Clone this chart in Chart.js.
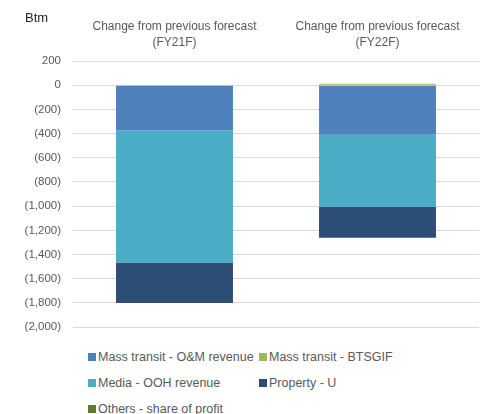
<!DOCTYPE html>
<html>
<head>
<meta charset="utf-8">
<script src="https://cdn.jsdelivr.net/npm/chart.js@4"></script>
<style>
  body { margin: 0; background: #fff; font-family: "Liberation Sans", Arial, sans-serif; }
  #wrap { position: relative; width: 486px; height: 414px; }
  #unit { position: absolute; left: 25px; top: 10px; font-size: 13px; color: #262626; }
  #legend { position: absolute; left: 88px; top: 350px; width: 390px; font-size: 12.5px; color: #595959; }
  .item { position: absolute; white-space: nowrap; line-height: 14px; }
  .item span { display: inline-block; width: 8px; height: 8px; margin-right: 2px; vertical-align: 0px; }
</style>
</head>
<body>
<div id="wrap">
  <canvas id="chart" width="486" height="346"></canvas>
  <div id="unit">Btm</div>
  <div id="legend"></div>
</div>
<script>
const categories = [
    ['Change from previous forecast', '(FY21F)'],
    ['Change from previous forecast', '(FY22F)']
];
const seriesNames = [
    'Mass transit - O&M revenue',
    'Mass transit - BTSGIF',
    'Media - OOH revenue',
    'Property - U',
    'Others - share of profit'
];
const massTransitOM = [-372, -410];
const massTransitBTSGIF = [0, 12];
const mediaOOH = [-1093, -595];
const propertyU = [-335, -256];
const othersShare = [0, 0];
const seriesColors = ['#4F81BD', '#9BBB59', '#4BACC6', '#2C4D75', '#5F7A2F'];

const yTicks = { min: -2000, max: 200, step: 200 };

const values = [massTransitOM, massTransitBTSGIF, mediaOOH, propertyU, othersShare];
const datasets = seriesNames.map((name, i) => ({
    label: name,
    data: values[i],
    backgroundColor: seriesColors[i],
    borderWidth: 0,
    barPercentage: 0.576,
    categoryPercentage: 1
}));

function fmt(v) {
    const s = Math.abs(v).toLocaleString('en-US');
    return v < 0 ? '(' + s + ')' : s;
}

new Chart(document.getElementById('chart'), {
    type: 'bar',
    data: { labels: categories, datasets: datasets },
    options: {
        responsive: false,
        animation: false,
        layout: { padding: { left: 0, right: 7, top: 0, bottom: 0 } },
        plugins: { legend: { display: false }, tooltip: { enabled: false } },
        scales: {
            x: {
                position: 'top',
                stacked: true,
                grid: { display: false },
                border: { display: false },
                ticks: {
                    color: '#595959',
                    font: { family: 'Liberation Sans', size: 12, lineHeight: 1.35 },
                    padding: 2
                },
                afterFit: s => { s.height = 61; }
            },
            y: {
                stacked: true,
                min: yTicks.min,
                max: yTicks.max,
                grid: { color: '#d9d9d9', drawTicks: false },
                border: { display: false },
                ticks: {
                    stepSize: yTicks.step,
                    color: '#595959',
                    font: { family: 'Liberation Sans', size: 11.5 },
                    padding: 12,
                    callback: v => fmt(v)
                },
                afterFit: s => { s.width = 73; }
            }
        }
    }
});

// legend laid out in two columns like the original
const legendPos = [[0, 0], [171, 0], [0, 26], [171, 26], [0, 52]];
const legend = document.getElementById('legend');
seriesNames.forEach((name, i) => {
    const div = document.createElement('div');
    div.className = 'item';
    div.style.left = legendPos[i][0] + 'px';
    div.style.top = legendPos[i][1] + 'px';
    div.innerHTML = `<span style="background:${seriesColors[i]}"></span>${name}`;
    legend.appendChild(div);
});
</script>
</body>
</html>
